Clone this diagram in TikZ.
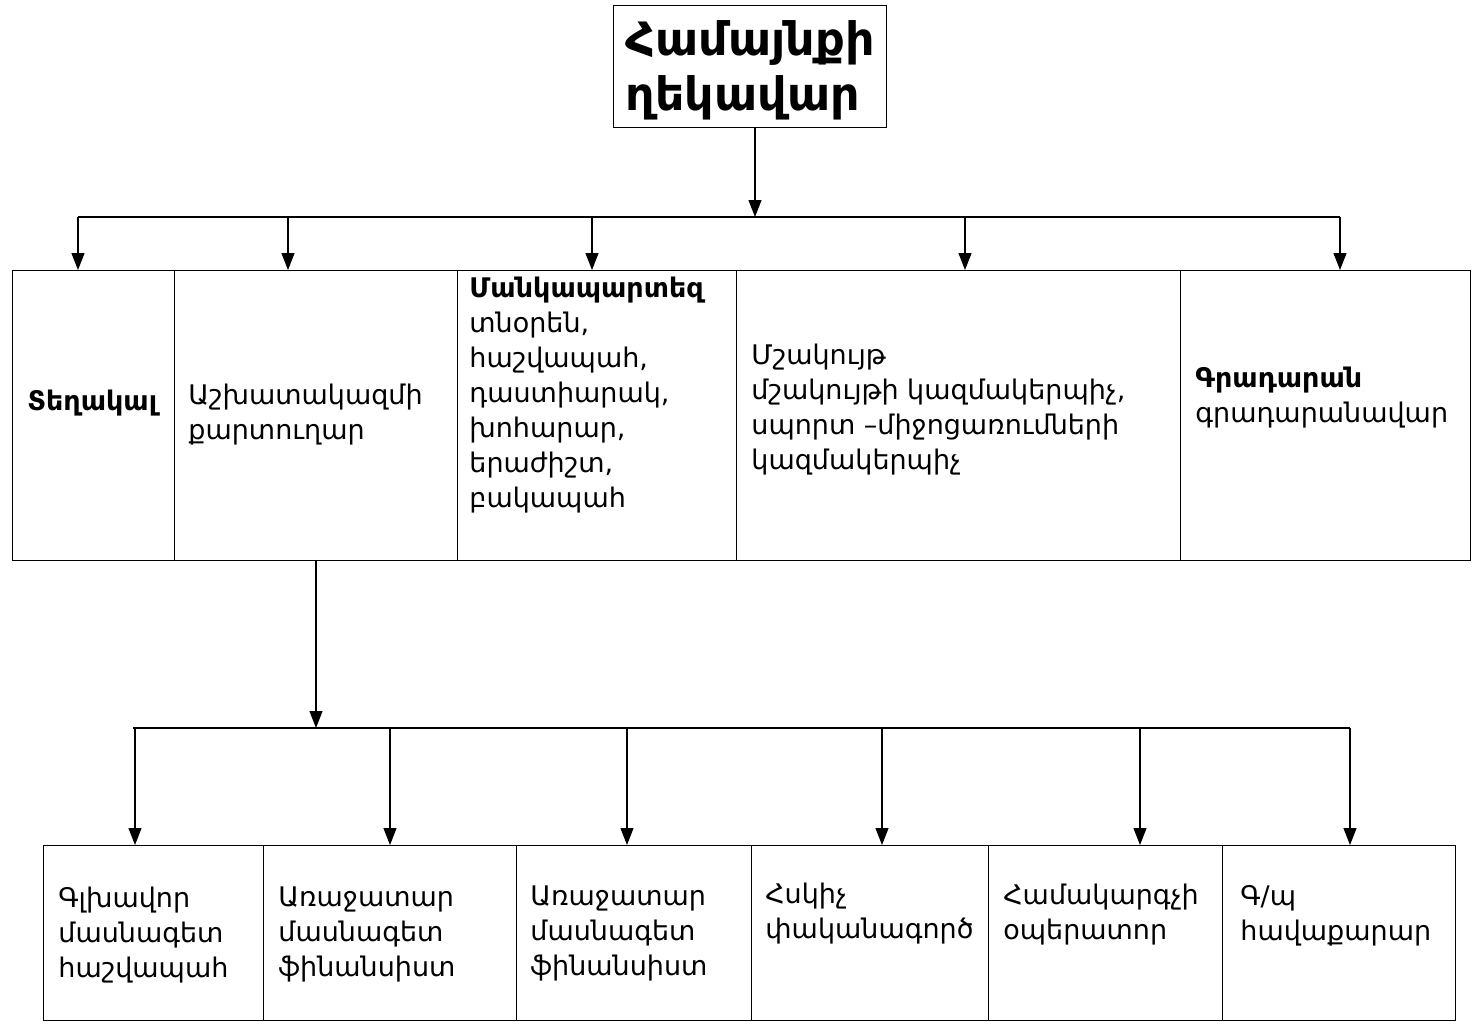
\documentclass[tikz,border=0pt]{standalone}
\usepackage{fontspec}
\setmainfont{DejaVu Sans}
\usetikzlibrary{arrows.meta}
\begin{document}
\begin{tikzpicture}[x=0.5pt,y=-0.5pt,
  box/.style={draw,line width=0.6pt,inner sep=0pt},
  lbl/.style={anchor=west,align=left,inner sep=0pt,font=\fontsize{13.5}{17.5}\selectfont},
  conn/.style={line width=0.6pt},
  arr/.style={line width=0.6pt,-{Triangle[length=8.5pt,width=6.5pt]}}]
\useasboundingbox (0,0) rectangle (1472,1035);
% top box
\node[box,minimum width=136.5pt,minimum height=61pt,anchor=north west] (top) at (613,5) {};
\node[anchor=center,align=left,inner sep=0pt,font=\bfseries\fontsize{23}{27.5}\selectfont] (toptxt) at ([yshift=-2pt]top.center) {Համայնքի\\ղեկավար};
% row 1 boxes
\node[box,minimum width=81pt,minimum height=145pt,anchor=north west] (a1) at (12,270) {};
\node[box,minimum width=141.5pt,minimum height=145pt,anchor=north west] (a2) at (174,270) {};
\node[box,minimum width=139.5pt,minimum height=145pt,anchor=north west] (a3) at (457,270) {};
\node[box,minimum width=222pt,minimum height=145pt,anchor=north west] (a4) at (736,270) {};
\node[box,minimum width=145pt,minimum height=145pt,anchor=north west] (a5) at (1180,270) {};
% row 1 texts
\node[lbl,font=\bfseries\fontsize{13.5}{17.5}\selectfont] (t1) at (27,403) {Տեղակալ};
\node[lbl] (t2) at (188,415) {Աշխատակազմի\\քարտուղար};
\node[lbl,anchor=north west] (t3) at (469,277) {\textbf{Մանկապարտեզ}\\տնօրեն,\\հաշվապահ,\\դաստիարակ,\\խոհարար,\\երաժիշտ,\\բակապահ};
\node[lbl] (t4) at (751,410) {Մշակույթ\\մշակույթի կազմակերպիչ,\\սպորտ –միջոցառումների\\կազմակերպիչ};
\node[lbl] (t5) at (1195,398) {\textbf{Գրադարան}\\գրադարանավար};
% row 2 boxes
\node[box,minimum width=110pt,minimum height=87.5pt,anchor=north west] (b1) at (43,845) {};
\node[box,minimum width=126.5pt,minimum height=87.5pt,anchor=north west] (b2) at (263,845) {};
\node[box,minimum width=117.5pt,minimum height=87.5pt,anchor=north west] (b3) at (516,845) {};
\node[box,minimum width=118.5pt,minimum height=87.5pt,anchor=north west] (b4) at (751,845) {};
\node[box,minimum width=117pt,minimum height=87.5pt,anchor=north west] (b5) at (988,845) {};
\node[box,minimum width=116.5pt,minimum height=87.5pt,anchor=north west] (b6) at (1222,845) {};
% row 2 texts
\node[lbl] (u1) at (58,935) {Գլխավոր\\մասնագետ\\հաշվապահ};
\node[lbl] (u2) at (278,934) {Առաջատար\\մասնագետ\\ֆինանսիստ};
\node[lbl] (u3) at (530,933) {Առաջատար\\մասնագետ\\ֆինանսիստ};
\node[lbl] (u4) at (765,914) {Հսկիչ\\փականագործ};
\node[lbl] (u5) at (1003,915) {Համակարգչի\\օպերատոր};
\node[lbl] (u6) at (1240,916) {Գ/պ\\հավաքարար};
% bus 1
\coordinate (h1) at (755,217);
\coordinate (h1l) at (78,217);
\coordinate (h1r) at (1340,217);
\draw[arr] (top.south -| h1) -- (h1);
\draw[conn] (h1l) -- (h1r);
\foreach \n/\x in {a1/78,a2/288,a3/592,a4/965,a5/1340}
  \draw[arr] (\x,217) -- (\n.north -| {(\x,0)});
% bus 2
\coordinate (k) at (316,728);
\draw[arr] (a2.south -| k) -- (k);
\draw[conn] (133,728) -- (1350,728);
\foreach \n/\x in {b1/135,b2/390,b3/627,b4/882,b5/1140,b6/1350}
  \draw[arr] (\x,728) -- (\n.north -| {(\x,0)});
\end{tikzpicture}
\end{document}
